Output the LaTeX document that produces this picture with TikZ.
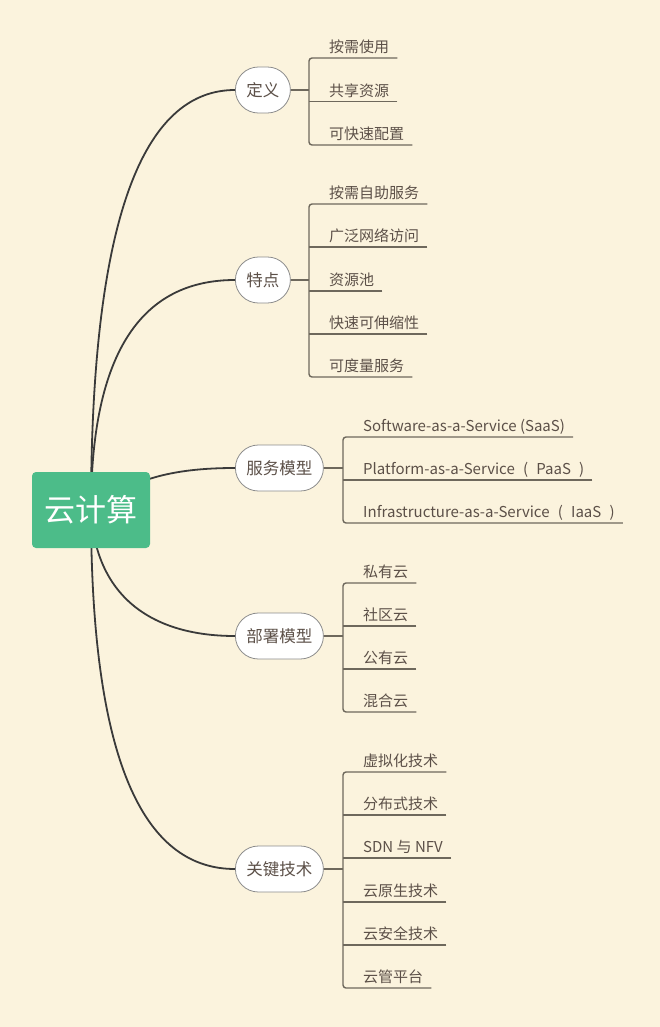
\documentclass[tikz,border=0pt]{standalone}
\usepackage{fontspec}
\setmainfont{Noto Sans CJK SC}
\definecolor{bgcream}{RGB}{251,243,221}
\definecolor{rootgreen}{RGB}{76,188,137}
\definecolor{textbrown}{RGB}{92,80,72}
\definecolor{linedark}{RGB}{58,58,58}
\definecolor{linebrown}{RGB}{110,104,92}
\definecolor{bordergray}{RGB}{140,140,140}

\tikzset{
  root/.style={rectangle, rounded corners=4pt, fill=rootgreen, text=white,
    minimum width=118pt, minimum height=76pt, font=\fontsize{31}{36}\selectfont},
  topic/.style={rectangle, rounded corners=23pt, draw=bordergray, line width=0.8pt,
    fill=white, text=textbrown, minimum height=46pt, minimum width=54pt,
    inner xsep=11pt, anchor=west, font=\fontsize{16.5}{20}\selectfont},
  leaf/.style={anchor=south west, inner xsep=8pt, inner ysep=0pt, text depth=5pt,
    text=textbrown, font=\fontsize{15}{18}\selectfont},
  curve/.style={draw=linedark, line width=1.8pt},
  branch/.style={draw=linebrown, line width=1.4pt, rounded corners=3pt},
}
\newcommand{\wsp}{\hspace{0.55em}}

\begin{document}
\begin{tikzpicture}[x=1pt, y=-1pt]

	\useasboundingbox[fill=bgcream] (0,0) rectangle (660,1027);

	% main topics
	\node[topic] (dy) at (235,90) {定义};
	\node[topic] (td) at (235,280) {特点};
	\node[topic] (fw) at (235,468) {服务模型};
	\node[topic] (bs) at (235,636) {部署模型};
	\node[topic] (gj) at (235,869) {关键技术};

	% curves from the centre
	\coordinate (yun-c) at (91,510);
	\draw[curve] (yun-c) .. controls (91,200) and (150,90) .. (dy.west);
	\draw[curve] (yun-c) .. controls (91,340) and (150,280) .. (td.west);
	\draw[curve] (yun-c) .. controls (130,480) and (170,468) .. (fw.west);
	\draw[curve] (yun-c) .. controls (95,595) and (150,636) .. (bs.west);
	\draw[curve] (yun-c) .. controls (91,776) and (150,869) .. (gj.west);

	\node[root] (yun) at (yun-c) {云计算};

	% 定义
	\coordinate (dy-t) at (309,58);
	\coordinate (dy-b) at (309,145);
	\node[leaf] (dy1) at (321,58) {按需使用};
	\node[leaf] (dy2) at (321,101.5) {共享资源};
	\node[leaf] (dy3) at (321,145) {可快速配置};
	\draw[branch] (dy1.south east) -- (dy-t) -- (dy-b) -- (dy3.south east);
	\draw[branch] (dy2.south east) -- (dy2.south east -| dy-t);
	\draw[branch] (dy.east) -- (dy.east -| dy-t);

	% 特点
	\coordinate (td-t) at (309,204);
	\coordinate (td-b) at (309,377);
	\node[leaf] (td1) at (321,204) {按需自助服务};
	\node[leaf] (td2) at (321,247) {广泛网络访问};
	\node[leaf] (td3) at (321,291) {资源池};
	\node[leaf] (td4) at (321,334) {快速可伸缩性};
	\node[leaf] (td5) at (321,377) {可度量服务};
	\draw[branch] (td1.south east) -- (td-t) -- (td-b) -- (td5.south east);
	\draw[branch] (td2.south east) -- (td2.south east -| td-t);
	\draw[branch] (td3.south east) -- (td3.south east -| td-t);
	\draw[branch] (td4.south east) -- (td4.south east -| td-t);
	\draw[branch] (td.east) -- (td.east -| td-t);

	% 服务模型
	\coordinate (fw-t) at (343,437);
	\coordinate (fw-b) at (343,523);
	\node[leaf] (fw1) at (355,437) {Software-as-a-Service (SaaS)};
	\node[leaf] (fw2) at (355,480) {Platform-as-a-Service\wsp(\wsp PaaS\wsp)};
	\node[leaf] (fw3) at (355,523) {Infrastructure-as-a-Service\wsp(\wsp IaaS\wsp)};
	\draw[branch] (fw1.south east) -- (fw-t) -- (fw-b) -- (fw3.south east);
	\draw[branch] (fw2.south east) -- (fw2.south east -| fw-t);
	\draw[branch] (fw.east) -- (fw.east -| fw-t);

	% 部署模型
	\coordinate (bs-t) at (343,583);
	\coordinate (bs-b) at (343,712);
	\node[leaf] (bs1) at (355,583) {私有云};
	\node[leaf] (bs2) at (355,626) {社区云};
	\node[leaf] (bs3) at (355,669) {公有云};
	\node[leaf] (bs4) at (355,712) {混合云};
	\draw[branch] (bs1.south east) -- (bs-t) -- (bs-b) -- (bs4.south east);
	\draw[branch] (bs2.south east) -- (bs2.south east -| bs-t);
	\draw[branch] (bs3.south east) -- (bs3.south east -| bs-t);
	\draw[branch] (bs.east) -- (bs.east -| bs-t);

	% 关键技术
	\coordinate (gj-t) at (343,772);
	\coordinate (gj-b) at (343,988);
	\node[leaf] (gj1) at (355,772) {虚拟化技术};
	\node[leaf] (gj2) at (355,815) {分布式技术};
	\node[leaf] (gj3) at (355,858) {SDN 与 NFV};
	\node[leaf] (gj4) at (355,902) {云原生技术};
	\node[leaf] (gj5) at (355,945) {云安全技术};
	\node[leaf] (gj6) at (355,988) {云管平台};
	\draw[branch] (gj1.south east) -- (gj-t) -- (gj-b) -- (gj6.south east);
	\draw[branch] (gj2.south east) -- (gj2.south east -| gj-t);
	\draw[branch] (gj3.south east) -- (gj3.south east -| gj-t);
	\draw[branch] (gj4.south east) -- (gj4.south east -| gj-t);
	\draw[branch] (gj5.south east) -- (gj5.south east -| gj-t);
	\draw[branch] (gj.east) -- (gj.east -| gj-t);

\end{tikzpicture}
\end{document}
